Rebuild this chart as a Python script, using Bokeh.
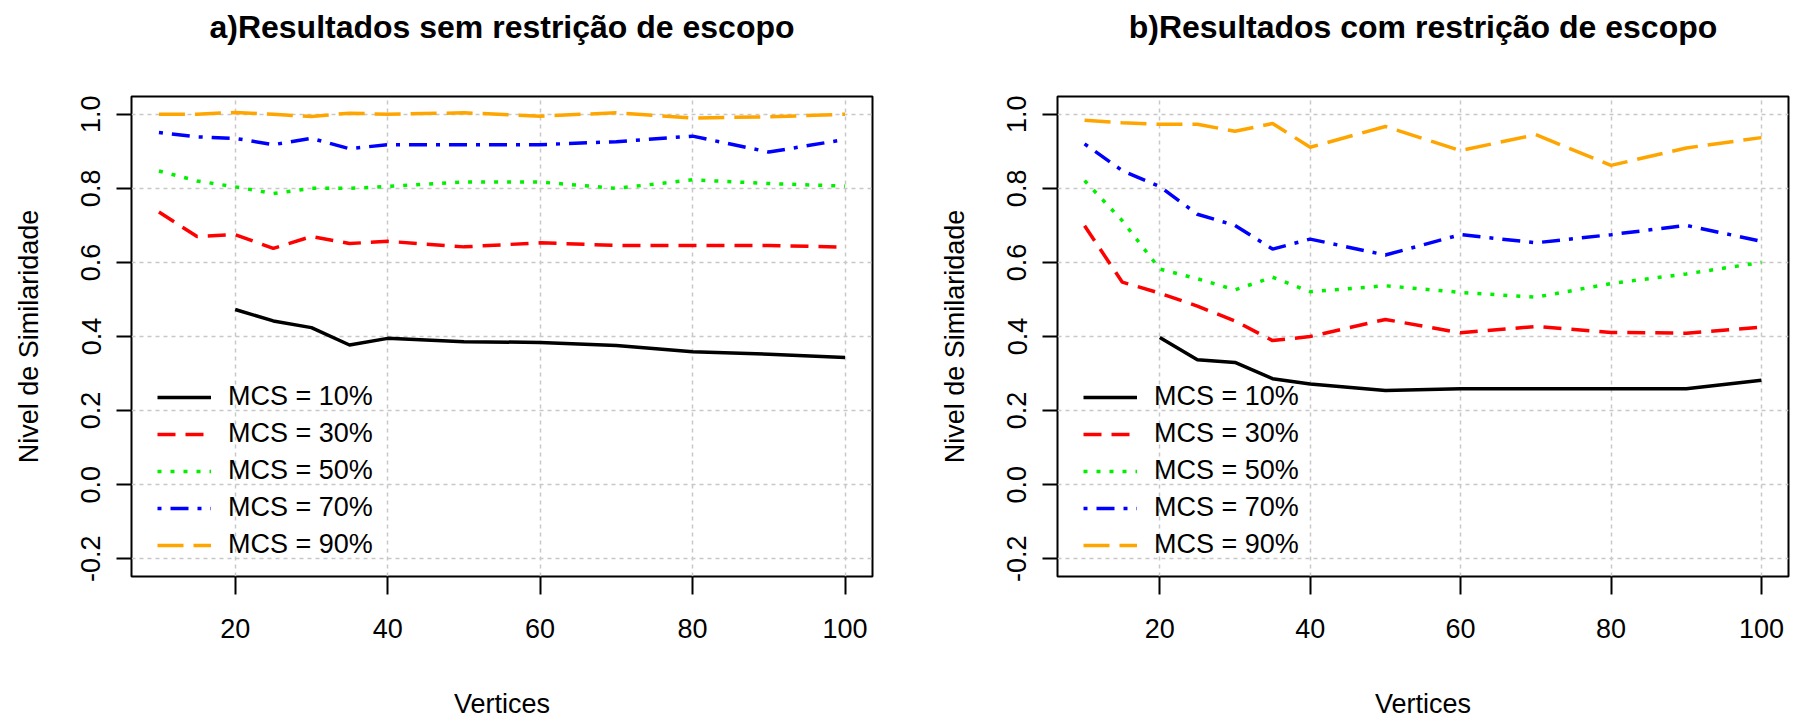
from bokeh.plotting import figure
from bokeh.layouts import row
from bokeh.models import FixedTicker, PrintfTickFormatter, Legend, LegendItem, Title
from bokeh.embed import file_html
from bokeh.resources import INLINE

# ---------------- data ----------------
vertices = [10, 15, 20, 25, 30, 35, 40, 50, 60, 70, 80, 90, 100]
vertices_mcs10 = [20, 25, 30, 35, 40, 50, 60, 70, 80, 90, 100]

series_labels = ["MCS = 10%", "MCS = 30%", "MCS = 50%", "MCS = 70%", "MCS = 90%"]

# a) sem restricao de escopo
a_mcs10 = [0.473, 0.442, 0.424, 0.377, 0.395, 0.386, 0.384, 0.376, 0.359, 0.352, 0.343]
a_mcs30 = [0.736, 0.670, 0.675, 0.638, 0.670, 0.651, 0.657, 0.642, 0.653, 0.646, 0.646, 0.646, 0.641]
a_mcs50 = [0.847, 0.820, 0.804, 0.786, 0.800, 0.800, 0.805, 0.817, 0.817, 0.800, 0.823, 0.813, 0.806]
a_mcs70 = [0.951, 0.939, 0.935, 0.918, 0.935, 0.907, 0.918, 0.918, 0.918, 0.926, 0.941, 0.898, 0.932]
a_mcs90 = [1.000, 1.000, 1.005, 1.000, 0.994, 1.003, 1.000, 1.004, 0.995, 1.004, 0.990, 0.993, 1.000]

# b) com restricao de escopo
b_mcs10 = [0.397, 0.337, 0.330, 0.286, 0.272, 0.254, 0.259, 0.259, 0.259, 0.259, 0.282]
b_mcs30 = [0.699, 0.547, 0.517, 0.482, 0.442, 0.389, 0.400, 0.446, 0.410, 0.427, 0.411, 0.409, 0.425]
b_mcs50 = [0.821, 0.713, 0.582, 0.556, 0.526, 0.560, 0.521, 0.537, 0.519, 0.506, 0.543, 0.569, 0.600]
b_mcs70 = [0.920, 0.848, 0.805, 0.730, 0.700, 0.636, 0.663, 0.620, 0.675, 0.653, 0.675, 0.700, 0.657]
b_mcs90 = [0.984, 0.977, 0.973, 0.973, 0.954, 0.975, 0.911, 0.967, 0.902, 0.945, 0.862, 0.909, 0.937]

x_ticks = [20, 40, 60, 80, 100]
y_ticks = [-0.2, 0.0, 0.2, 0.4, 0.6, 0.8, 1.0]

# ---------------- style ----------------
FONT = "Liberation Sans"
colors = ["black", "red", "#00f000", "blue", "orange"]
dashes = ["solid", "18 10", "4 9", "4 9 18 9", "26 10"]
LW = 3.5
HEIGHT = 727
TOP = 96
FRAME_H = 480


def make_panel(title, ys, left_border, frame_w, right_border):
    W = left_border + frame_w + right_border
    p = figure(width=W, height=HEIGHT, x_range=(6.4, 103.6), y_range=(-0.248, 1.048),
               output_backend="svg", toolbar_location=None,
               min_border_left=left_border, min_border_right=right_border,
               min_border_top=TOP, min_border_bottom=HEIGHT - TOP - FRAME_H)
    p.title.text = ""
    # blank spacer title next to the box, real title stacked above it
    p.add_layout(Title(text=" ", text_font=FONT, text_font_size="32px", standoff=10), "above")
    p.add_layout(Title(text=title, align="center", text_font=FONT, text_font_size="32px",
                       text_font_style="bold", text_color="black", standoff=8), "above")

    p.outline_line_color = "black"
    p.outline_line_width = 2
    p.background_fill_color = "white"

    p.xaxis.ticker = FixedTicker(ticks=x_ticks)
    p.yaxis.ticker = FixedTicker(ticks=y_ticks)
    p.yaxis.formatter = PrintfTickFormatter(format="%.1f")
    for ax in (p.xaxis[0], p.yaxis[0]):
        ax.axis_line_color = None
        ax.major_tick_line_color = "black"
        ax.major_tick_line_width = 2
        ax.major_tick_in = 0
        ax.minor_tick_line_color = None
        ax.minor_tick_out = 0
        ax.major_label_text_font = FONT
        ax.major_label_text_font_size = "27px"
        ax.major_label_text_color = "black"
        ax.axis_label_text_font = FONT
        ax.axis_label_text_font_size = "27px"
        ax.axis_label_text_font_style = "normal"
        ax.axis_label_text_color = "black"
    p.xaxis.major_tick_out = 18
    p.xaxis.major_label_standoff = 24
    p.xaxis.axis_label = "Vertices"
    p.xaxis.axis_label_standoff = 48
    p.yaxis.major_tick_out = 15
    p.yaxis.major_label_orientation = "vertical"
    p.yaxis.major_label_standoff = 16
    p.yaxis.axis_label = "Nivel de Similaridade"
    p.yaxis.axis_label_standoff = 35

    for g in (p.xgrid[0], p.ygrid[0]):
        g.grid_line_color = "#c8c8c8"
        g.grid_line_dash = "4 4"
        g.grid_line_width = 1.5
    p.xgrid.ticker = FixedTicker(ticks=x_ticks)
    p.ygrid.ticker = FixedTicker(ticks=y_ticks)

    items = []
    for i, (lab, y) in enumerate(zip(series_labels, ys)):
        xs = vertices_mcs10 if i == 0 else vertices
        r = p.line(xs, y, line_color=colors[i], line_width=LW, line_dash=dashes[i])
        items.append(LegendItem(label=lab, renderers=[r]))
    leg = Legend(items=items, location=(26, 16))
    leg.label_text_font = FONT
    leg.label_text_font_size = "27px"
    leg.label_text_color = "black"
    leg.glyph_width = 54
    leg.glyph_height = 30
    leg.label_height = 30
    leg.spacing = 6
    leg.label_standoff = 17
    leg.padding = 0
    leg.margin = 0
    leg.border_line_alpha = 0
    leg.background_fill_alpha = 0
    p.add_layout(leg)
    return p


pa = make_panel("a)Resultados sem restrição de escopo",
                [a_mcs10, a_mcs30, a_mcs50, a_mcs70, a_mcs90], 131, 741, 22)
pb = make_panel("b)Resultados com restrição de escopo",
                [b_mcs10, b_mcs30, b_mcs50, b_mcs70, b_mcs90], 163, 731, 2)

layout = row(pa, pb)
open("out.html", "w").write(file_html(layout, INLINE))
